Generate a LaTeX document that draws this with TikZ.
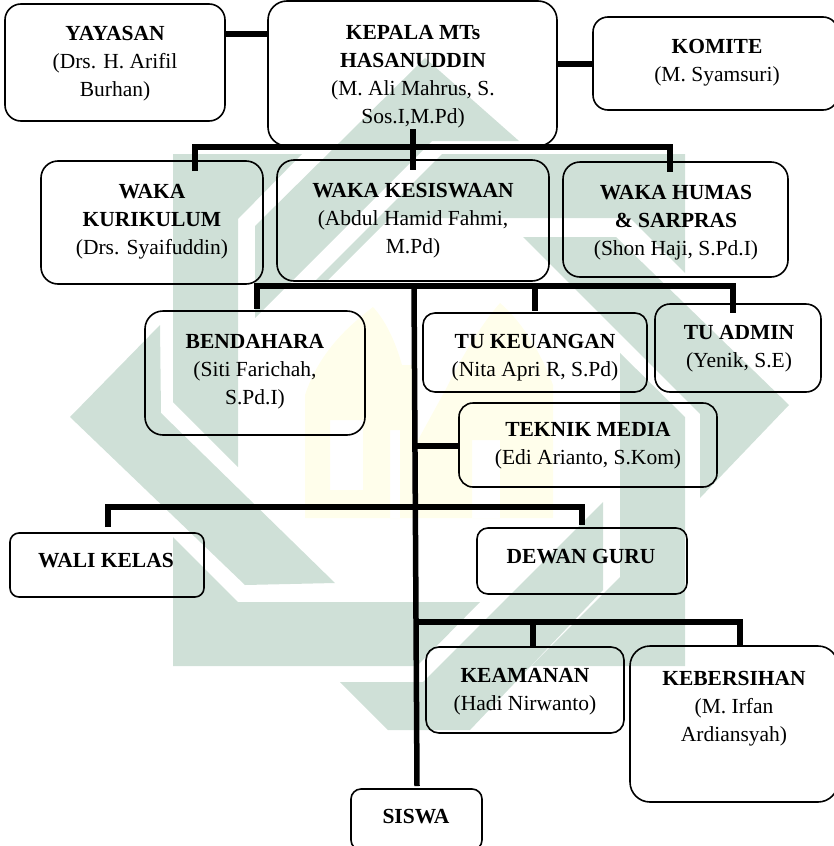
\documentclass[tikz,border=0pt]{standalone}
\usepackage{fontspec}
\setmainfont{Liberation Serif}
\definecolor{wmgreen}{HTML}{CFE0D7}
\definecolor{wmyellow}{HTML}{FFFEEB}
\tikzset{
  orgbox/.style={draw=black,line width=1.6pt,inner sep=0pt,outer sep=0pt},
  orgtext/.style={align=center,anchor=north,inner sep=0pt,outer sep=0pt,font=\fontsize{21.5}{28}\selectfont},
  bus/.style={line width=5.5pt,draw=black,line cap=butt},
  wmg/.style={fill=wmgreen,draw=none},
  wmy/.style={fill=wmyellow,draw=none,even odd rule}
}
\newcommand{\orgnode}[9]{\node[orgbox,minimum width=#4pt-#2pt,minimum height=#5pt-#3pt,anchor=north west,rounded corners=#6pt] (#1) at (#2,#3) {}; \node[orgtext] (#1t) at (#7,#8-7) {#9};}
\begin{document}
\begin{tikzpicture}[x=1pt,y=-1pt]
\useasboundingbox (0,0) rectangle (834,846);
% watermark: green
\fill[wmg] (173,154)--(302,154)--(238,219)--(238,467)--(173,402)--cycle;
\fill[wmg] (425,58)--(519,141)--(432,141)--(255,318)--(255,226)--cycle;
\fill[wmg] (442,154)--(685,154)--(685,273)--(630,218)--(390,218)--(326,282)--(314,282)--cycle;
\fill[wmg] (70,417)--(160,325)--(161,413)--(335,583)--(245,585)--cycle;
\fill[wmg] (173,537)--(238,602)--(480,602)--(417,666)--(173,666)--cycle;
\fill[wmg] (603,502)--(603,590)--(470,730)--(388,730)--(340,682)--(423,682)--cycle;
\fill[wmg] (620,353)--(685,417)--(685,666)--(531,666)--(620,577)--cycle;
\fill[wmg] (523,237)--(616,237)--(789,405)--(700,498)--(700,414)--cycle;
% watermark: yellow
\fill[wmy] (305,518)--(305,395) .. controls (320,350) and (350,325) .. (373,307) .. controls (385,320) and (395,340) .. (402,365) -- (415,365) -- (415,518) -- cycle
  (330,420) rectangle (363,490)
  (390,430) rectangle (400,518);
\fill[wmy] (418,518)--(418,440)--(447,387) .. controls (465,350) and (485,320) .. (500,303) .. controls (520,320) and (540,350) .. (553,385) -- (553,518) -- cycle
  (472,440) rectangle (500,518);
% connector ends
\coordinate (bal) at (195,147); \coordinate (bar) at (670,147); \coordinate (bat) at (413,129);
\coordinate (bam) at (413,170); \coordinate (bald) at (195,171); \coordinate (bard) at (670,172);
\coordinate (bbl) at (257,286); \coordinate (bbr) at (733,286); \coordinate (tra) at (414,286); \coordinate (trb) at (417,786);
\coordinate (bbld) at (257,309); \coordinate (bbm) at (535,286); \coordinate (bbmd) at (535,311); \coordinate (bbrd) at (733,313);
\coordinate (tka) at (415,446);
\coordinate (bcl) at (108,507); \coordinate (bcr) at (582,507); \coordinate (bcld) at (108,527); \coordinate (bcrd) at (582,525);
\coordinate (bdl) at (415,622); \coordinate (bdr) at (740,622); \coordinate (bdm) at (533,622); \coordinate (bdmd) at (533,648); \coordinate (bdrd) at (740,646);
% boxes
\orgnode{yay}{5}{4}{225}{121}{16}{115}{33}{\textbf{YAYASAN}\\(Drs. H. Arifil\\Burhan)}
\orgnode{kep}{268}{1}{557}{146}{19}{413}{32}{\textbf{KEPALA MTs}\\\textbf{HASANUDDIN}\\(M. Ali Mahrus, S.\\Sos.I,M.Pd)}
\orgnode{kom}{593}{17}{838}{110}{15}{717}{46}{\textbf{KOMITE}\\(M. Syamsuri)}
\orgnode{kur}{41}{161}{263}{284}{17}{152}{191}{\textbf{WAKA}\\\textbf{KURIKULUM}\\(Drs. Syaifuddin)}
\orgnode{kes}{277}{160}{549}{281}{17}{413}{190}{\textbf{WAKA KESISWAAN}\\(Abdul Hamid Fahmi,\\M.Pd)}
\orgnode{hum}{563}{162}{788}{277}{17}{676}{192}{\textbf{WAKA HUMAS}\\\textbf{\& SARPRAS}\\(Shon Haji, S.Pd.I)}
\orgnode{ben}{145}{311}{365}{435}{18}{255}{341}{\textbf{BENDAHARA}\\(Siti Farichah,\\S.Pd.I)}
\orgnode{keu}{423}{313}{647}{392}{12}{535}{341}{\textbf{TU KEUANGAN}\\(Nita Apri R, S.Pd)}
\orgnode{adm}{655}{304}{821}{392}{15}{739}{332}{\textbf{TU ADMIN}\\(Yenik, S.E)}
\orgnode{tek}{459}{403}{717}{487}{14}{588}{429}{\textbf{TEKNIK MEDIA}\\(Edi Arianto, S.Kom)}
\orgnode{wal}{10}{533}{204}{597}{9}{106}{560}{\textbf{WALI KELAS}}
\orgnode{dew}{477}{528}{687}{594}{11}{581}{556}{\textbf{DEWAN GURU}}
\orgnode{kea}{426}{647}{624}{733}{13}{525}{675}{\textbf{KEAMANAN}\\(Hadi Nirwanto)}
\orgnode{keb}{630}{646}{838}{802}{20}{734}{678}{\textbf{KEBERSIHAN}\\(M. Irfan\\Ardiansyah)}
\orgnode{sis}{351}{789}{482}{850}{10}{416}{816}{\textbf{SISWA}}
% connectors
\draw[bus] (yay.east |- 0,34) -- (kep.west |- 0,34);
\draw[bus] (kep.east |- 0,64) -- (kom.west |- 0,64);
\draw[bus] (bald) -- (bal) -- (bar) -- (bard);
\draw[bus] (bat) -- (bam);
\draw[bus] (bbld) -- (bbl) -- (bbr) -- (bbrd);
\draw[bus] (bbm) -- (bbmd);
\draw[bus] (tra) -- (trb);
\draw[bus] (tka) -- (tek.west |- tka);
\draw[bus] (bcld) -- (bcl) -- (bcr) -- (bcrd);
\draw[bus] (bdl) -- (bdr) -- (bdrd);
\draw[bus] (bdm) -- (bdmd);
\end{tikzpicture}
\end{document}
